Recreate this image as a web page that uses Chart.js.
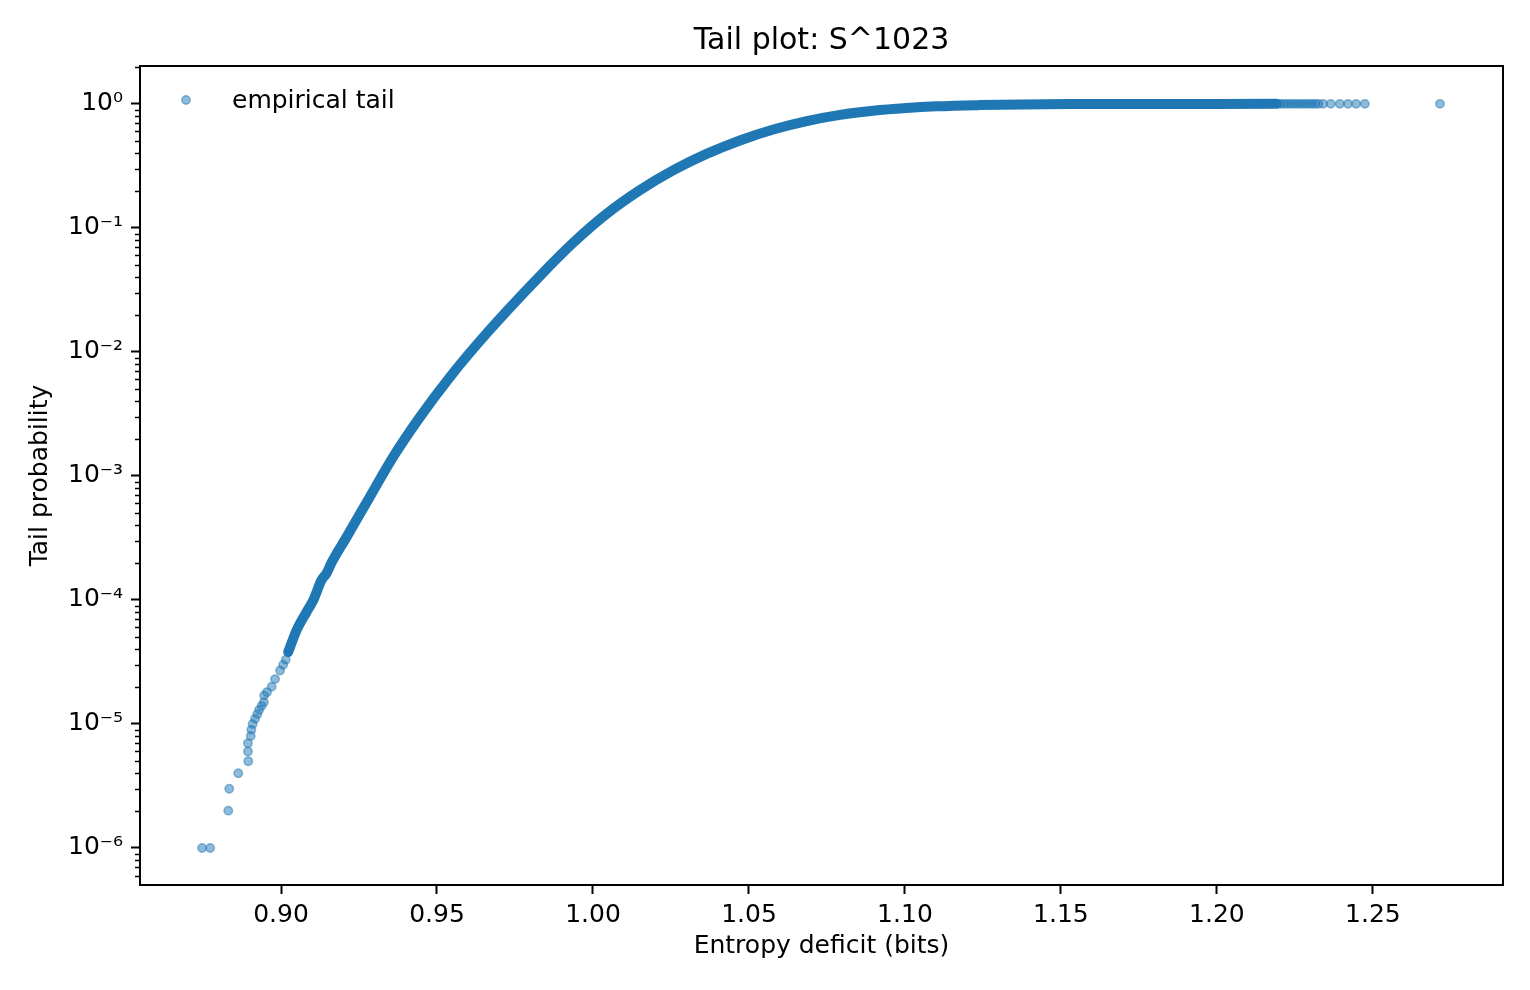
<!DOCTYPE html>
<html>
<head>
<meta charset="utf-8">
<script src="https://cdn.jsdelivr.net/npm/chart.js@4.4.0/dist/chart.umd.min.js"></script>
<style>
  body { margin: 0; background: #fff; }
  #wrap { width: 1530px; height: 990px; }
</style>
</head>
<body>
<div id="wrap"><canvas id="tailChart" width="1530" height="990"></canvas></div>
<script>
// values
const denseX = [0.9023, 0.9050, 0.9082, 0.9104, 0.9130, 0.9146, 0.9162, 0.9211, 0.9285, 0.9360,
                0.9446, 0.9542, 0.9660, 0.9830, 0.9937, 1.0044, 1.0151, 1.0258, 1.0364, 1.0471,
                1.0578, 1.0685, 1.0792, 1.0898, 1.1005, 1.1101, 1.1240, 1.1375, 1.1550, 1.1800,
                1.2000, 1.2190];
const denseY = [3.8e-5, 5.7e-5, 8.0e-5, 1.0e-4, 1.45e-4, 1.64e-4, 2.0e-4, 3.24e-4, 6.8e-4, 1.43e-3,
                3.0e-3, 6.3e-3, 1.42e-2, 4.1e-2, 0.076, 0.130, 0.202, 0.292, 0.395, 0.507,
                0.621, 0.726, 0.815, 0.881, 0.927, 0.955, 0.977, 0.990, 0.996, 0.999,
                0.9998, 1.0];

const sparseX = [0.8747, 0.8773, 0.8831, 0.8834, 0.8863, 0.8895, 0.8894, 0.8894, 0.8903, 0.8905,
                 0.8909, 0.8917, 0.8924, 0.8930, 0.8938, 0.8945, 0.8946, 0.8955, 0.8970, 0.8981,
                 0.8997, 0.9007, 0.9015,
                 1.2195, 1.2205, 1.2215, 1.2225, 1.2235, 1.2245, 1.2255, 1.2265, 1.2275, 1.2285,
                 1.2295, 1.2305, 1.2315, 1.2325, 1.2340, 1.2365, 1.2394, 1.2420, 1.2446, 1.2474,
                 1.2715];
const sparseY = [1e-6, 1e-6, 2e-6, 3e-6, 4e-6, 5e-6, 6e-6, 7e-6, 8e-6, 9e-6,
                 1.0e-5, 1.1e-5, 1.2e-5, 1.3e-5, 1.4e-5, 1.5e-5, 1.7e-5, 1.8e-5, 2.0e-5, 2.3e-5,
                 2.7e-5, 3.0e-5, 3.3e-5,
                 1.0, 1.0, 1.0, 1.0, 1.0, 1.0, 1.0, 1.0, 1.0, 1.0,
                 1.0, 1.0, 1.0, 1.0, 1.0, 1.0, 1.0, 1.0, 1.0, 1.0,
                 1.0];

const xTickValues = [0.90, 0.95, 1.00, 1.05, 1.10, 1.15, 1.20, 1.25];
const xTickLabels = ['0.90', '0.95', '1.00', '1.05', '1.10', '1.15', '1.20', '1.25'];
const yTickValues = [1e-6, 1e-5, 1e-4, 1e-3, 1e-2, 1e-1, 1e0];
const yTickLabels = ['10\u207B\u2076', '10\u207B\u2075', '10\u207B\u2074', '10\u207B\u00B3', '10\u207B\u00B2', '10\u207B\u00B9', '10\u2070'];

const FONT = 'DejaVu Sans';
const BLUE = 'rgb(31, 119, 180)';
const BLUE_A = 'rgba(31, 119, 180, 0.5)';

// title, spines on top/right, minor log ticks, and legend
const extras = {
    id: 'extras',
    afterDraw(chart) {
        const ctx = chart.ctx;
        const area = chart.chartArea;
        const y = chart.scales.y;
        ctx.save();
        ctx.strokeStyle = '#000';
        ctx.lineWidth = 2;
        ctx.beginPath();
        ctx.moveTo(area.left, area.top);
        ctx.lineTo(area.right, area.top);
        ctx.lineTo(area.right, area.bottom);
        ctx.stroke();

        ctx.lineWidth = 1.5;
        for (let k = -7; k <= 0; k++) {
            for (let m = 2; m <= 9; m++) {
                const v = m * Math.pow(10, k);
                if (v < y.min || v > y.max) continue;
                const py = Math.round(y.getPixelForValue(v)) + 0.5;
                ctx.beginPath();
                ctx.moveTo(area.left - 5, py);
                ctx.lineTo(area.left, py);
                ctx.stroke();
            }
        }

        // title
        ctx.fillStyle = '#000';
        ctx.font = '30px "' + FONT + '"';
        ctx.textAlign = 'center';
        ctx.textBaseline = 'alphabetic';
        ctx.fillText('Tail plot: S^1023', (area.left + area.right) / 2, 49);

        // legend
        ctx.beginPath();
        ctx.arc(186, 100, 4.2, 0, Math.PI * 2);
        ctx.fillStyle = BLUE_A;
        ctx.fill();
        ctx.lineWidth = 1.5;
        ctx.strokeStyle = BLUE_A;
        ctx.stroke();
        ctx.fillStyle = '#000';
        ctx.font = '25px "' + FONT + '"';
        ctx.textBaseline = 'middle';
        ctx.textAlign = 'left';
        ctx.fillText('empirical tail', 232, 101);
        ctx.restore();
    }
};

const ctx = document.getElementById('tailChart').getContext('2d');
const tailChart = new Chart(ctx, {
    type: 'scatter',
    data: {
        datasets: [{
            label: 'band',
            data: denseX.map((x, i) => ({ x: x, y: denseY[i] })),
            showLine: true,
            borderColor: BLUE,
            borderWidth: 10,
            borderCapStyle: 'round',
            borderJoinStyle: 'round',
            cubicInterpolationMode: 'monotone',
            pointRadius: 0,
            pointHoverRadius: 0
        }, {
            label: 'empirical tail',
            data: sparseX.map((x, i) => ({ x: x, y: sparseY[i] })),
            backgroundColor: BLUE_A,
            borderColor: BLUE_A,
            borderWidth: 1.5,
            pointRadius: 4.2
        }]
    },
    options: {
        responsive: false,
        animation: false,
        layout: { padding: { left: 0, right: 27, top: 66, bottom: 0 } },
        plugins: {
            legend: { display: false },
            tooltip: { enabled: false },
            title: { display: false }
        },
        scales: {
            x: {
                type: 'linear',
                min: 0.8548,
                max: 1.2917,
                afterFit: s => { s.height = 105; },
                afterBuildTicks: s => { s.ticks = xTickValues.map(v => ({ value: v })); },
                ticks: {
                    color: '#000',
                    font: { family: FONT, size: 25 },
                    padding: 6,
                    maxRotation: 0,
                    autoSkip: false,
                    callback: (v, i) => xTickLabels[i]
                },
                grid: { drawOnChartArea: false, tickLength: 9, tickWidth: 2, tickColor: '#000' },
                border: { display: true, color: '#000', width: 2 },
                title: {
                    display: true,
                    text: 'Entropy deficit (bits)',
                    color: '#000',
                    font: { family: FONT, size: 25 },
                    padding: { top: 0, bottom: 29 }
                }
            },
            y: {
                type: 'logarithmic',
                min: 5.03e-7,
                max: 2.02,
                afterFit: s => { s.width = 140; },
                afterBuildTicks: s => { s.ticks = yTickValues.map(v => ({ value: v })); },
                ticks: {
                    color: '#000',
                    font: { family: FONT, size: 25 },
                    padding: 8,
                    autoSkip: false,
                    callback: (v, i) => yTickLabels[i]
                },
                grid: { drawOnChartArea: false, tickLength: 9, tickWidth: 2, tickColor: '#000' },
                border: { display: true, color: '#000', width: 2 },
                title: {
                    display: true,
                    text: 'Tail probability',
                    color: '#000',
                    font: { family: FONT, size: 25 },
                    padding: { top: 25, bottom: 0 }
                }
            }
        }
    },
    plugins: [extras]
});
</script>
</body>
</html>
